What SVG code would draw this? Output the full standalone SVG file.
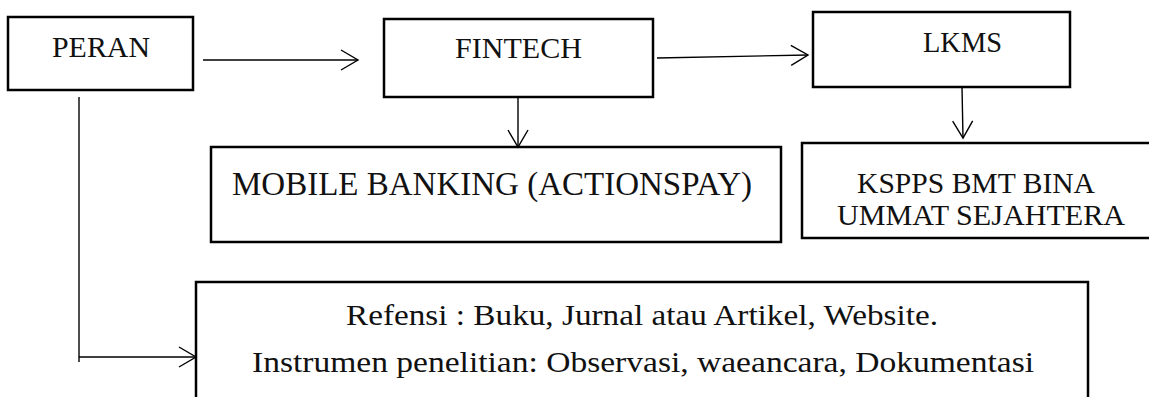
<svg xmlns="http://www.w3.org/2000/svg" width="1149" height="397" viewBox="0 0 1149 397">
<style>
.box{fill:#fff;stroke:#000;stroke-width:2.5}
.t{font-family:"Liberation Serif","Times New Roman",serif;font-size:29px;fill:#111}
.tm{font-family:"Liberation Serif","Times New Roman",serif;font-size:33px;fill:#111}
.c{fill:none;stroke:#000;stroke-width:1.4}
</style>
<defs>
<marker id="ah" markerUnits="userSpaceOnUse" markerWidth="20" markerHeight="24" refX="17" refY="10" orient="auto" overflow="visible">
<path d="M0,0 L17,10 L0,20" fill="none" stroke="#000" stroke-width="1.4"/>
</marker>
</defs>
<rect width="1149" height="397" fill="#fff"/>
<g id="peran"><rect class="box" x="8" y="17" width="185" height="73"/><text class="t" x="52" y="57" textLength="98" lengthAdjust="spacingAndGlyphs">PERAN</text></g>
<g id="fintech"><rect class="box" x="384" y="19" width="269" height="78"/><text class="t" x="455" y="58" textLength="127" lengthAdjust="spacingAndGlyphs">FINTECH</text></g>
<g id="lkms"><rect class="box" x="813" y="12" width="257" height="75"/><text class="t" x="923" y="52" textLength="79" lengthAdjust="spacingAndGlyphs">LKMS</text></g>
<g id="mobile"><rect class="box" x="211" y="147" width="570" height="95"/><text class="tm" x="232" y="195">MOBILE BANKING (ACTIONSPAY)</text></g>
<g id="kspps"><rect class="box" x="802" y="143" width="360" height="95"/><text class="t" x="857" y="193" textLength="238" lengthAdjust="spacingAndGlyphs">KSPPS BMT BINA</text><text class="t" x="837" y="225" textLength="288" lengthAdjust="spacingAndGlyphs">UMMAT SEJAHTERA</text></g>
<g id="refensi"><rect class="box" x="196" y="282" width="892" height="130"/><text class="t" x="346" y="325" textLength="592" lengthAdjust="spacingAndGlyphs">Refensi : Buku, Jurnal atau Artikel, Website.</text><text class="t" x="252" y="372" textLength="782" lengthAdjust="spacingAndGlyphs">Instrumen penelitian: Observasi, waeancara, Dokumentasi</text></g>
<g id="connectors">
<line class="c" x1="203" y1="60" x2="358" y2="60" marker-end="url(#ah)"/>
<line class="c" x1="657" y1="58" x2="808" y2="55" marker-end="url(#ah)"/>
<line class="c" x1="518" y1="97" x2="518" y2="147" marker-end="url(#ah)"/>
<line class="c" x1="962" y1="87" x2="963" y2="138" marker-end="url(#ah)"/>
<polyline class="c" points="79,97 79,362"/>
<line class="c" x1="79" y1="357" x2="196" y2="357" marker-end="url(#ah)"/>
</g>
</svg>
